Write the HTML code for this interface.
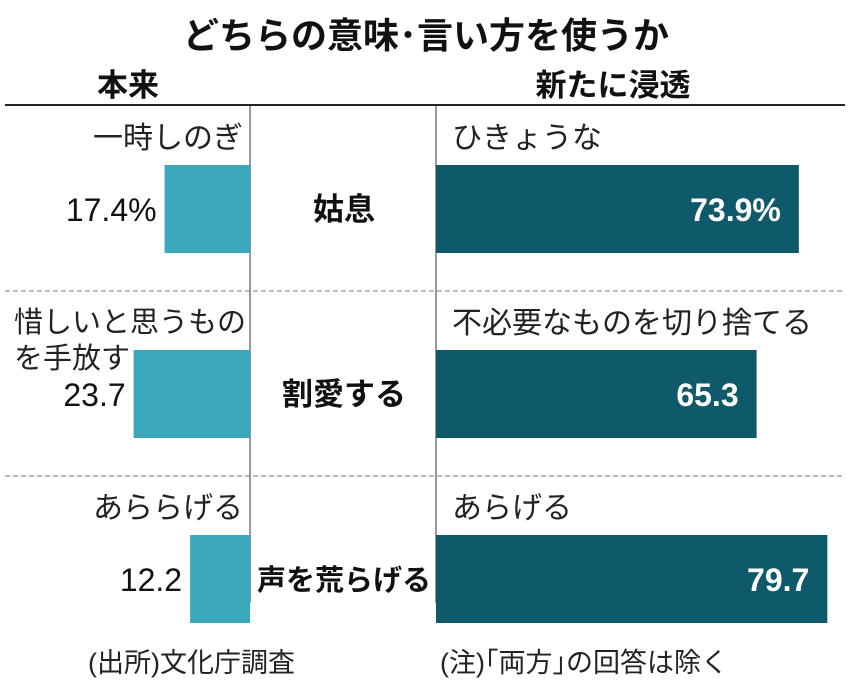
<!DOCTYPE html>
<html><head><meta charset="utf-8"><style>
body{margin:0;background:#fff;width:850px;height:694px;overflow:hidden;font-family:"Liberation Sans","Noto Sans CJK JP",sans-serif;}
svg text{font-family:"Liberation Sans","Noto Sans CJK JP",sans-serif;}
</style></head><body>
<svg id="c" width="850" height="694">
<text x="426" y="48" text-anchor="middle" font-size="36" font-weight="bold" fill="#111">どちらの意味･言い方を使うか</text>
<text x="128" y="96" text-anchor="middle" font-size="31" font-weight="bold" fill="#111">本来</text>
<text x="613" y="96" text-anchor="middle" font-size="31" font-weight="bold" fill="#111">新たに浸透</text>
<line x1="5" y1="105" x2="845" y2="105" stroke="#222" stroke-width="2"/>
<line x1="250" y1="105" x2="250" y2="603" stroke="#333" stroke-width="1"/>
<line x1="436" y1="105" x2="436" y2="603" stroke="#333" stroke-width="1"/>
<line x1="5" y1="291" x2="845" y2="291" stroke="#777" stroke-dasharray="5,3"/>
<line x1="5" y1="476" x2="845" y2="476" stroke="#777" stroke-dasharray="5,3"/>
<text x="88" y="672" font-size="27" fill="#222">(出所)文化庁調査</text>
<text x="440" y="672" font-size="27" fill="#222">(注)｢両方｣の回答は除く</text>
</svg>
<script>
const words=["姑息","割愛する","声を荒らげる"];
const originalMeanings=[["一時しのぎ"],["惜しいと思うもの","を手放す"],["あららげる"]];
const newMeanings=["ひきょうな","不必要なものを切り捨てる","あらげる"];
const originalValues=[17.4,23.7,12.2];
const newValues=[73.9,65.3,79.7];
const valueLabelsLeft=["17.4%","23.7","12.2"];
const valueLabelsRight=["73.9%","65.3","79.7"];
const svg=document.getElementById('c');
const NS='http://www.w3.org/2000/svg';
const scale=v=>v*4.91;
const rowTop=i=>165+i*185;
function el(t,a,txt){const e=document.createElementNS(NS,t);for(const k in a)e.setAttribute(k,a[k]);if(txt!==undefined)e.textContent=txt;svg.appendChild(e);return e;}
words.forEach((w,i)=>{
  const y=rowTop(i),h=88;
  const lw=scale(originalValues[i]);
  const lb=el('rect',{x:250-lw,y:y,width:lw,height:h,fill:'#3ba9bb'});
  
  
  const rw=scale(newValues[i]);
  const rb=el('rect',{x:436,y:y,width:rw,height:h,fill:'#0e5a6b'});
  
  
  const lv=el('text',{x:250-lw-8,y:y+h/2+12,'text-anchor':'end','font-size':'32',fill:'#111'},valueLabelsLeft[i]);
  
  
  const rv=el('text',{x:436+rw-18,y:y+h/2+12,'text-anchor':'end','font-size':'32','font-weight':'bold',fill:'#fff'},valueLabelsRight[i]);
  
  
  const wl=el('text',{x:344,y:y+h/2+11,'text-anchor':'middle','font-size':w.length>4?'29':'31','font-weight':'bold',fill:'#111'},w);
  
  
  const lines=originalMeanings[i];
  lines.forEach((ln,j)=>{
    let t;
    if(lines.length===1){t=el('text',{x:243,y:y-17,'text-anchor':'end','font-size':'30',fill:'#222'},ln);}
    else{t=el('text',{x:14,y:y-18+j*36,'font-size':'29',fill:'#222'},ln);}
    
    
  });
  const nm=el('text',{x:452,y:y-17,'font-size':'30',fill:'#222'},newMeanings[i]);
  
  
});
</script>
</body></html>
